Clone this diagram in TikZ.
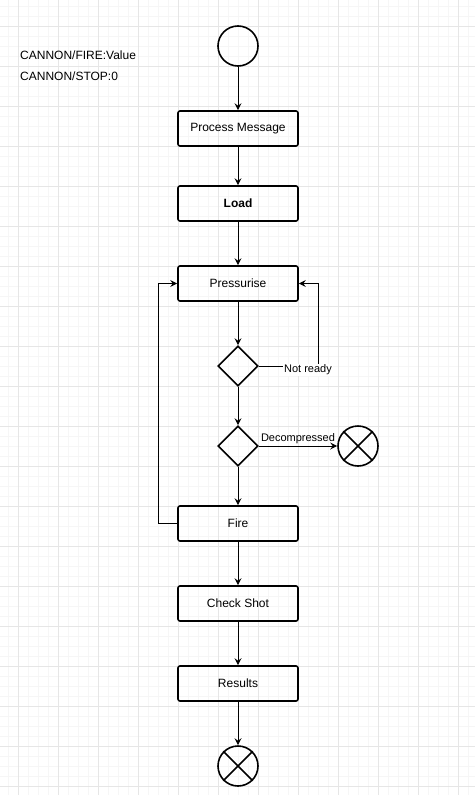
\documentclass[tikz,border=0pt]{standalone}
\usepackage{fontspec}
\setmainfont{Liberation Sans}
\usetikzlibrary{shapes.geometric,arrows.meta}
\definecolor{gridminor}{HTML}{F6F6F6}
\definecolor{gridmajor}{HTML}{E6E6E6}
\tikzset{
  box/.style={draw, line width=1.6pt, rounded corners=2pt, minimum width=120pt, minimum height=35pt, inner sep=0pt, font=\fontsize{12}{14}\selectfont},
  circ/.style={draw, circle, line width=1.6pt, minimum size=40pt, inner sep=0pt},
  dia/.style={draw, diamond, line width=1.6pt, minimum width=40pt, minimum height=40pt, inner sep=0pt},
  conn/.style={line width=0.9pt},
  arr/.style={line width=0.9pt, -{Stealth[length=7pt,width=7pt,inset=2.5pt]}},
  lbl/.style={font=\fontsize{12}{14}\selectfont, inner sep=0pt, anchor=west},
  small/.style={font=\fontsize{11}{13}\selectfont}
}
\begin{document}
\begin{tikzpicture}[x=1pt,y=-1pt]
\useasboundingbox (0,0) rectangle (475,795);
\fill[white] (0,0) rectangle (475,795);
\foreach \x in {8,18,...,468} \draw[gridminor, line width=0.7pt] (\x,0) -- (\x,795);
\foreach \y in {6,16,...,786} \draw[gridminor, line width=0.7pt] (0,\y) -- (475,\y);
\foreach \x in {18,58,...,458} \draw[gridmajor, line width=0.8pt] (\x,0) -- (\x,795);
\foreach \y in {26,66,...,786} \draw[gridmajor, line width=0.8pt] (0,\y) -- (475,\y);

\node[lbl] (t1) at (20,55) {CANNON/FIRE:Value};
\node[lbl] (t2) at (20,76) {CANNON/STOP:0};

\node[circ] (start) at (238,46) {};
\node[box] (pm) at (238,128.5) {Process Message};
\node[box, font=\fontsize{12}{14}\selectfont\bfseries] (load) at (238,203.5) {Load};
\node[box] (press) at (238,283.5) {Pressurise};
\node[dia] (d1) at (238,366) {};
\node[dia] (d2) at (238,446) {};
\node[circ] (x1) at (358,446) {};
\draw[line width=1.6pt] (x1.north west) -- (x1.south east) (x1.north east) -- (x1.south west);
\node[box] (fire) at (238,523.5) {Fire};
\node[box] (check) at (238,603.5) {Check Shot};
\node[box] (res) at (238,683.5) {Results};
\node[circ] (x2) at (238,766) {};
\draw[line width=1.6pt] (x2.north west) -- (x2.south east) (x2.north east) -- (x2.south west);

\draw[arr] (start) -- (pm);
\draw[arr] (pm) -- (load);
\draw[arr] (load) -- (press);
\draw[arr] (press) -- (d1);
\draw[arr] (d1) -- (d2);
\draw[arr] (d2) -- (fire);
\draw[arr] (fire) -- (check);
\draw[arr] (check) -- (res);
\draw[arr] (res) -- (x2);

\coordinate (nr) at (318,366);
\draw[arr] (d1.east) -- (nr) |- (press.east);
\node[small, fill=white, inner sep=1pt] (nrl) at (308,370) {Not ready};

\draw[arr] (d2.east) -- (x1.west) node[midway, above=0.5pt, small, inner sep=1pt] (dl) {Decompressed};

\coordinate (lf) at (158,523.5);
\draw[arr] (fire.west) -- (lf) |- (press.west);
\end{tikzpicture}
\end{document}
